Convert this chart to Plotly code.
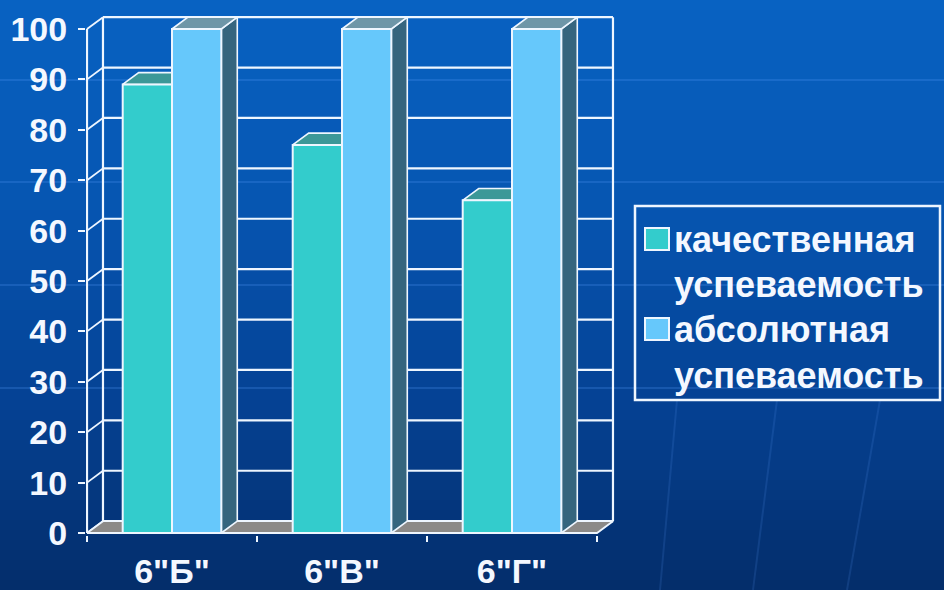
import plotly.graph_objects as go

# ---- data -------------------------------------------------------------
classes = ['6"Б"', '6"В"', '6"Г"']
quality = [89, 77, 66]          # качественная успеваемость, %
absolute = [100, 100, 100]      # абсолютная успеваемость, %
series_names = [["качественная", "успеваемость"], ["абсолютная", "успеваемость"]]
y_ticks = list(range(0, 101, 10))

# ---- styling ----------------------------------------------------------
TEAL, TEAL_TOP, TEAL_SIDE = "#33CCCC", "#3C9898", "#2C8C8C"
BLUE, BLUE_TOP, BLUE_SIDE = "#66C8FB", "#6E96A8", "#35657E"
FLOOR = "#8C8A88"
EDGE = "#EEF6FF"
FONT = dict(family="Liberation Sans, Arial, sans-serif", size=34, color="#F4F8FF", weight="bold")
LEG_FONT = dict(FONT, size=36)

W_BAR = 0.29        # width of one bar in category units
DX, DY = 0.094, 2.35  # depth offset of the 3-D box (x units, y units)

FIG_W, FIG_H = 944, 590
L, R, T, B = 86, 327, 6, 55
PX_X, PX_Y = 170.0, 5.04
x0 = -0.5 - 1.0 / PX_X
x1 = x0 + (FIG_W - L - R) / PX_X
y0 = -(FIG_H - B - 533) / PX_Y
y1 = y0 + (FIG_H - T - B) / PX_Y

PW, PH = FIG_W - L - R, FIG_H - T - B


def px(xpix):
    return (xpix - L) / PW


def py(ypix):
    return (FIG_H - B - ypix) / PH


fig = go.Figure()


def poly(xs, ys, fill, z, lw=1.6, color=EDGE):
    fig.add_trace(go.Scatter(
        x=list(xs) + [xs[0]], y=list(ys) + [ys[0]], mode="lines",
        fill="toself" if fill else None, fillcolor=fill,
        line=dict(color=color, width=lw), hoverinfo="skip",
        showlegend=False, zorder=z))


def seg(xs, ys, z, lw=2.2):
    fig.add_trace(go.Scatter(
        x=xs, y=ys, mode="lines", line=dict(color=EDGE, width=lw),
        hoverinfo="skip", showlegend=False, zorder=z))


left, right = -0.5, len(classes) - 0.5

# back wall gridlines and wall edges
for v in y_ticks:
    seg([left + DX, right + DX], [v + DY, v + DY], 0)
    seg([left, left + DX], [v, v + DY], 0, lw=1.8)
seg([left + DX, left + DX], [DY, 100 + DY], 0)
seg([right + DX, right + DX], [DY, 100 + DY], 0)

# floor
poly([left, right, right + DX, left + DX], [0, 0, DY, DY], FLOOR, 1, lw=1.8)

# front axis lines
seg([left, left], [0, 100], 1)
seg([left, right], [0, 0], 1)

# bars: side and top faces from the values, front faces as bar marks
pos = list(range(len(classes)))
for i, (q, a) in enumerate(zip(quality, absolute)):
    for v, a0, top, side, z in [(q, i - W_BAR, TEAL_TOP, TEAL_SIDE, 2),
                                (a, i, BLUE_TOP, BLUE_SIDE, 4)]:
        b0 = a0 + W_BAR
        poly([b0, b0 + DX, b0 + DX, b0], [0, DY, v + DY, v], side, z)
        poly([a0, b0, b0 + DX, a0 + DX], [v, v, v + DY, v + DY], top, z)

fig.add_trace(go.Bar(x=pos, y=quality, width=W_BAR, offset=-W_BAR,
                     marker=dict(color=TEAL, line=dict(color=EDGE, width=2)),
                     name=" ".join(series_names[0]), showlegend=False, zorder=3))
fig.add_trace(go.Bar(x=pos, y=absolute, width=W_BAR, offset=0,
                     marker=dict(color=BLUE, line=dict(color=EDGE, width=2)),
                     name=" ".join(series_names[1]), showlegend=False, zorder=5))

# ---- background: vertical gradient with faint decorative lines --------
shapes = []
stops = [(0, (8, 98, 194)), (200, (6, 86, 178)), (400, (5, 66, 148)), (600, (4, 44, 104))]
N = 60
for k in range(N):
    ya, yb = k * 600 / N, (k + 1) * 600 / N
    ym = (ya + yb) / 2
    for (s0, c0), (s1, c1) in zip(stops[:-1], stops[1:]):
        if s0 <= ym <= s1:
            t = (ym - s0) / (s1 - s0)
            c = tuple(round(c0[j] + (c1[j] - c0[j]) * t) for j in range(3))
            break
    shapes.append(dict(type="rect", xref="paper", yref="paper", layer="below",
                       x0=px(-5), x1=px(FIG_W + 5), y0=py(yb + 0.6), y1=py(ya),
                       fillcolor="rgb(%d,%d,%d)" % c, line=dict(width=0)))
for yl in (80, 182, 285, 388):
    shapes.append(dict(type="line", xref="paper", yref="paper", layer="below",
                       x0=px(0), x1=px(FIG_W), y0=py(yl), y1=py(yl),
                       line=dict(color="rgba(90,160,255,0.22)", width=2)))
for xa, xb in ((677, 660), (777, 753), (880, 847)):
    shapes.append(dict(type="line", xref="paper", yref="paper", layer="below",
                       x0=px(xa), x1=px(xb), y0=py(400), y1=py(590),
                       line=dict(color="rgba(90,150,240,0.16)", width=2)))

# ---- legend box ---------------------------------------------------------
shapes.append(dict(type="rect", xref="paper", yref="paper",
                   x0=px(635), x1=px(940), y0=py(400), y1=py(206),
                   line=dict(color=EDGE, width=2.5), fillcolor="rgba(0,0,0,0)"))
annotations = []
for (lines, col, ytop) in [(series_names[0], TEAL, 239), (series_names[1], BLUE, 329)]:
    shapes.append(dict(type="rect", xref="paper", yref="paper",
                       x0=px(645), x1=px(669), y0=py(ytop + 11), y1=py(ytop - 11),
                       fillcolor=col, line=dict(color=EDGE, width=2)))
    for j, txt in enumerate(lines):
        annotations.append(dict(text=txt, xref="paper", yref="paper",
                                x=px(672), y=py(ytop + j * 46), xanchor="left",
                                yanchor="middle", showarrow=False, font=LEG_FONT))

fig.update_layout(
    width=FIG_W, height=FIG_H, margin=dict(l=L, r=R, t=T, b=B),
    paper_bgcolor="#042C68", plot_bgcolor="rgba(0,0,0,0)",
    barmode="overlay", showlegend=False,
    shapes=shapes, annotations=annotations,
    xaxis=dict(range=[x0, x1], tickvals=pos, ticktext=classes, ticks="",
               showgrid=False, zeroline=False, showline=False, automargin=False,
               tickfont=FONT, ticklabelstandoff=13,
               minor=dict(tickmode="array", tickvals=[left + k for k in range(len(classes) + 1)],
                          ticks="outside", ticklen=6, tickwidth=2, tickcolor=EDGE)),
    yaxis=dict(range=[y0, y1], tickvals=y_ticks, ticks="outside", ticklen=7,
               tickwidth=2, tickcolor=EDGE, showgrid=False, zeroline=False,
               showline=False, automargin=False, tickfont=FONT, ticklabelstandoff=4),
)

fig.write_html("out.html")
